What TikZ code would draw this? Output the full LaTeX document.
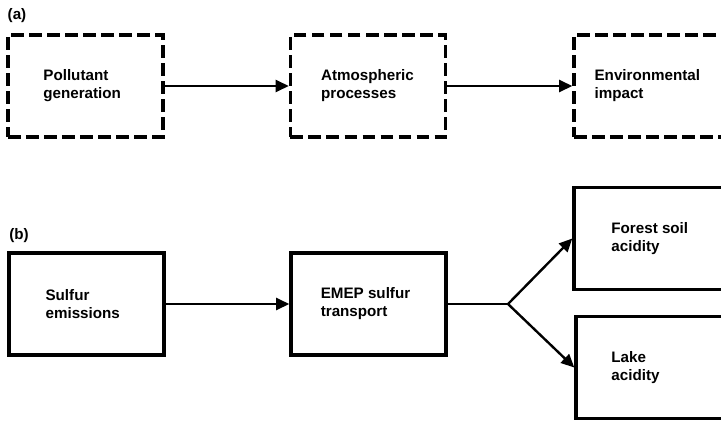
\documentclass[tikz,border=0pt]{standalone}
\usepackage{fontspec}
\setmainfont{Liberation Sans}
\usetikzlibrary{arrows.meta,positioning}

\begin{document}
\begin{tikzpicture}[x=0.025cm, y=-0.025cm,
      stage/.style={draw, line width=2.4pt, dash pattern=on 0.32cm off 0.13cm, minimum width=3.875cm, minimum height=2.55cm, inner sep=0pt},
      model/.style={draw, line width=2.4pt, minimum width=3.875cm, minimum height=2.55cm, inner sep=0pt},
      boxtext/.style={anchor=west, inner sep=0pt, align=left, font=\fontsize{10.8}{12.8}\selectfont\bfseries},
      caption/.style={anchor=center, inner sep=0pt, font=\fontsize{10.8}{12.8}\selectfont\bfseries},
      arrowstyle/.style={line width=1.7pt, -{Triangle[length=0.33cm, width=0.3cm]}}
    ]
    \clip (0,0) rectangle (721,421);

    % (a) general scheme
    \node[caption] (capa) at (17,16) {(a)};
    \node[stage] (generation) at (85.5,86) {};
    \node[stage] (atmosphere) at (368,86) {};
    \node[stage] (impact) at (651.5,86) {};
    \node[boxtext] (generationtext) at ([xshift=0.92cm]generation.west) {Pollutant\\generation};
    \node[boxtext] (atmospheretext) at ([xshift=0.8cm]atmosphere.west) {Atmospheric\\processes};
    \node[boxtext] (impacttext) at ([xshift=0.55cm]impact.west) {Environmental\\impact};

    \draw[arrowstyle] (generation) -- (atmosphere);
    \draw[arrowstyle] (atmosphere) -- (impact);

    % (b) sulfur case
    \node[caption] (capb) at (19,236) {(b)};
    \node[model] (emissions) at (86.5,304) {};
    \node[model] (transport) at (368.5,304) {};
    \node[model] (forest) at (651.5,238.5) {};
    \node[model] (lake) at (653.5,367.5) {};
    \node[boxtext] (emissionstext) at ([xshift=0.95cm]emissions.west) {Sulfur\\emissions};
    \node[boxtext] (transporttext) at ([xshift=0.78cm]transport.west) {EMEP sulfur\\transport};
    \node[boxtext] (foresttext) at ([xshift=0.97cm]forest.west) {Forest soil\\acidity};
    \node[boxtext] (laketext) at ([xshift=0.92cm]lake.west) {Lake\\acidity};
    \coordinate (split) at (508,304);

    \draw[arrowstyle] (emissions) -- (transport);
    \draw[line width=1.7pt] (transport) -- (split);
    \draw[arrowstyle] (split) -- (forest.west);
    \draw[arrowstyle] (split) -- (lake.west);
  \end{tikzpicture}
\end{document}
